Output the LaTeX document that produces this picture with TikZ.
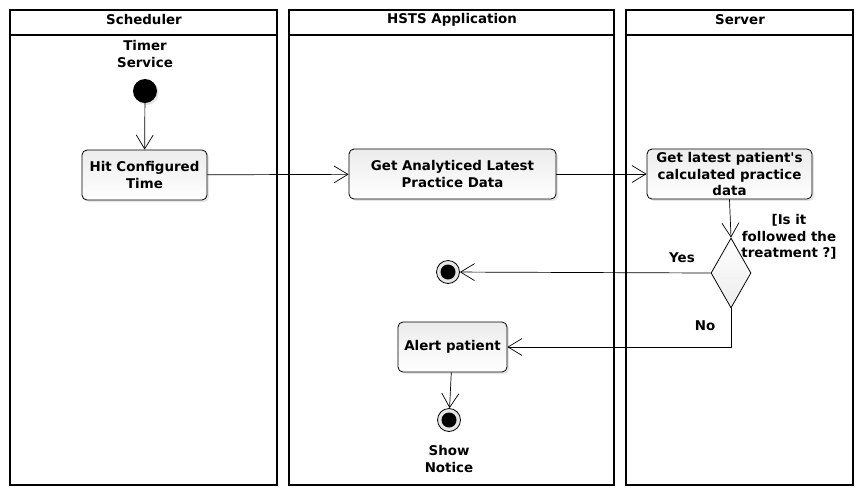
\documentclass[tikz,border=0pt]{standalone}
\usepackage{fontspec}
\setmainfont{DejaVu Sans}
\usetikzlibrary{arrows.meta,shapes.geometric,shadows}

\begin{document}
\begin{tikzpicture}[x=1pt,y=-1pt,
  font=\fontsize{13.4}{16.5}\selectfont\bfseries,
  lane/.style={draw,line width=1.2pt},
  action/.style={draw,line width=0.8pt,rounded corners=5pt,minimum height=50pt,align=center,
    inner sep=2pt,top color=gray!15,bottom color=white,
    drop shadow={opacity=0.2,shadow xshift=2pt,shadow yshift=-2pt}},
  start/.style={circle,fill=black,minimum size=24pt,inner sep=0pt,
    drop shadow={opacity=0.2,shadow xshift=2pt,shadow yshift=-2pt}},
  stop/.style={circle,draw=black,line width=0.8pt,fill=gray!20,minimum size=23pt,inner sep=0pt,
    path picture={\fill[black] (path picture bounding box.center) circle (7.5pt);}},
  choice/.style={diamond,draw,line width=0.8pt,inner sep=0pt,minimum width=40pt,minimum height=70pt,
    top color=white,bottom color=gray!15},
  note/.style={inner sep=0pt,align=center},
  flow/.style={-{Straight Barb[length=14pt,width=17pt]},line width=0.7pt}]
  \useasboundingbox (0,0) rectangle (864,491);

  \draw[lane] (10,10) rectangle (277,485);
  \draw[lane] (10,35) -- (277,35);
  \draw[lane] (289,10) rectangle (614,485);
  \draw[lane] (289,35) -- (614,35);
  \draw[lane] (626,10) rectangle (853,485);
  \draw[lane] (626,35) -- (853,35);
  \node[note] (sched) at (144,20) {Scheduler};
  \node[note] (hsts) at (452,20) {HSTS Application};
  \node[note] (server) at (740,20) {Server};

  \node[note] (timer) at (145,54) {Timer\\Service};
  \node[start] (init) at (145,91) {};
  \node[action,minimum width=125pt] (hit) at (144.5,175) {Hit Configured\\Time};
  \node[action,minimum width=207pt] (getdata) at (452.5,174) {Get Analyticed Latest\\Practice Data};
  \node[action,minimum width=165pt] (getlatest) at (729.5,174) {Get latest patient\textquotesingle s\\calculated practice\\data};
  \node[choice] (check) at (731,273) {};
  \node[note] (guard) at (789,237) {[Is it\\followed the\\treatment ?]};
  \node[note] (yes) at (682,258) {Yes};
  \node[note] (no) at (705,326) {No};
  \node[stop] (done) at (448,272) {};
  \node[action,minimum width=109pt] (alert) at (452.5,347) {Alert patient};
  \node[stop] (notice) at (449,420) {};
  \node[note] (show) at (449,459) {Show\\Notice};

  \draw[flow] (init) -- (hit);
  \draw[flow] (hit) -- (getdata);
  \draw[flow] (getdata) -- (getlatest);
  \draw[flow] (getlatest.south) -- (check.north);
  \draw[flow] (check.west) -- (done);
  \draw[flow] (check.south) |- (alert.east);
  \draw[flow] (alert) -- (notice);
\end{tikzpicture}
\end{document}
